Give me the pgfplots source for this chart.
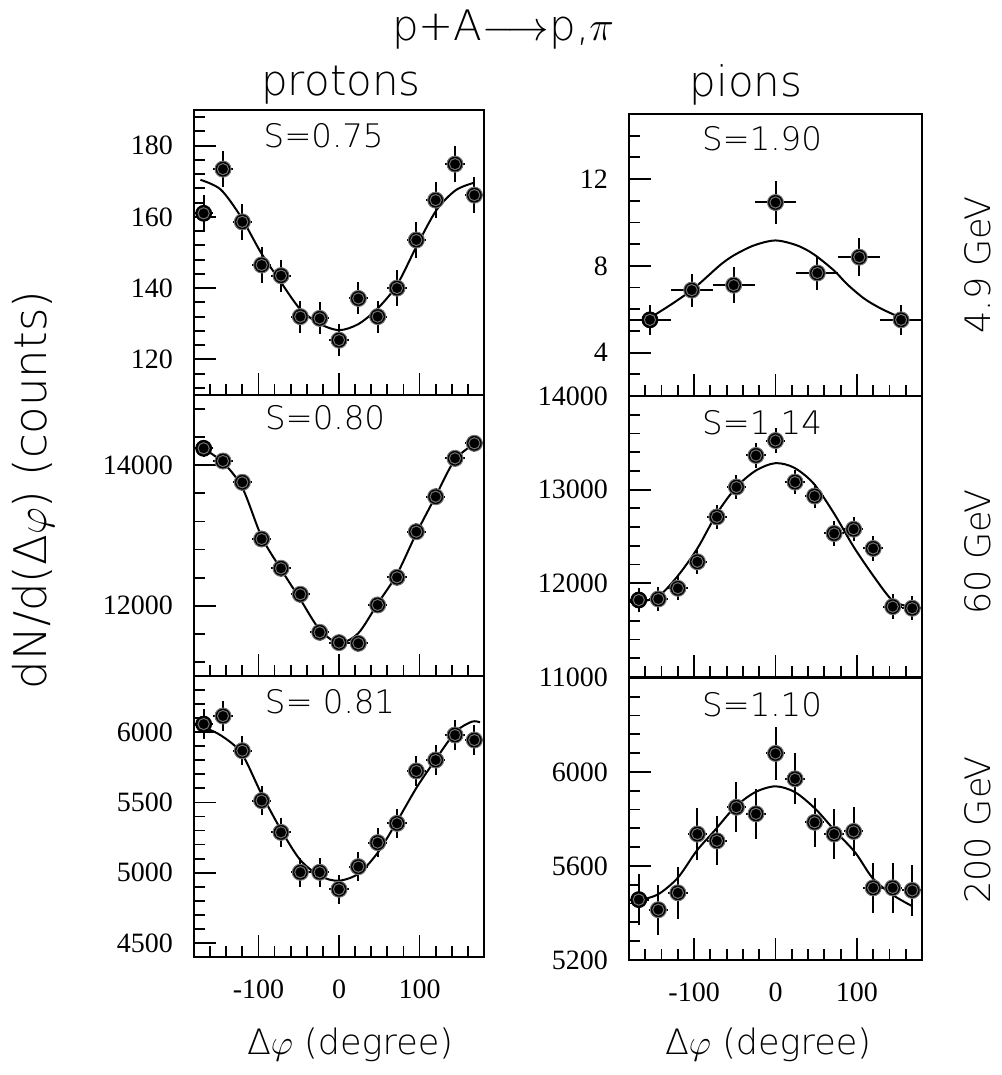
\documentclass[border=0pt]{standalone}
\usepackage{fontspec}
\setmainfont{Liberation Serif}
\IfFontExistsTF{DejaVu Sans ExtraLight}{\newfontfamily\hf{DejaVu Sans ExtraLight}}{\newfontfamily\hf{DejaVu Sans}}
\usepackage{pgfplots}
\pgfplotsset{compat=1.18}

% filled dot with a faint inner ring, like the original markers
\pgfdeclareplotmark{ringdot}{%
  \pgfpathcircle{\pgfpointorigin}{\pgfplotmarksize}%
  \pgfusepathqfillstroke
  \pgfsetstrokecolor{black!55}%
  \pgfsetlinewidth{0.5pt}%
  \pgfpathcircle{\pgfpointorigin}{0.7\pgfplotmarksize}%
  \pgfusepathqstroke
}

\pgfplotsset{
  panel/.style={
    scale only axis, anchor=south west,
    xmin=-180, xmax=180,
    xtick={-100,0,100}, minor xtick={-180,-160,...,180},
    xticklabels={},
    scaled y ticks=false,
    tick align=inside, tick pos=left,
    major tick length=11pt, minor tick length=5.5pt,
    axis line style={line width=1.2pt},
    every tick/.append style={black, line width=0.9pt},
    /pgf/number format/assume math mode=true,
    /pgf/number format/1000 sep={},
    yticklabel style={font=\fontsize{14}{14}\selectfont, xshift=-7pt},
    xticklabel style={font=\fontsize{14}{14}\selectfont, yshift=-8pt},
  },
  leftcol/.style={panel, width=145pt},
  rightcol/.style={panel, width=146.5pt},
  bottomrow/.style={xticklabels={-100,0,100}},
  pts/.style={only marks, mark=ringdot, mark size=4pt, mark options={fill=black, draw=black},
    error bars/.cd, x dir=both, x explicit, y dir=both, y explicit,
    error bar style={line width=1pt, black}, error mark=none},
  fitc/.style={smooth, no marks, line width=1pt, black},
}
\tikzset{slab/.style={font=\hf\fontsize{16.2}{16.2}\selectfont}}

\begin{document}
\begin{tikzpicture}
\useasboundingbox (0,0) rectangle (500.5pt,537.5pt);

% ---------- protons, 4.9 GeV
\begin{axis}[leftcol, at={(97pt,340pt)}, height=142.5pt,
  ymin=110, ymax=190, ytick={120,140,160,180}, minor ytick={112,116,...,188}]
\addplot[pts] coordinates {
 (-168,161.0) +- (12,5) (-144,173.4) +- (12,5) (-120,158.6) +- (12,5)
 (-96,146.5) +- (12,5) (-72,143.5) +- (12,4.5) (-48,132.0) +- (12,4.5)
 (-24,131.5) +- (12,4.5) (0,125.4) +- (12,4.5) (24,137.1) +- (12,4.5)
 (48,132.0) +- (12,4.5) (72,140.0) +- (12,5) (96,153.5) +- (12,5)
 (120,164.7) +- (12,5) (144,174.8) +- (12,5) (168,166.1) +- (12,5)
};
\addplot[fitc] coordinates {
 (-172,170.4) (-147,167.7) (-122,160.1) (-97,150.0) (-74,142.3) (-49,134.3)
 (-25,130.1) (0,128.2) (24,129.9) (48,134.3) (72,140.9) (96,151.6)
 (121,161.9) (145,167.5) (168,169.6)
};
\node[slab] at (rel axis cs:0.447,0.909) {S=0.75};
\end{axis}

% ---------- protons, 60 GeV
\begin{axis}[leftcol, at={(97pt,199.5pt)}, height=140.5pt,
  ymin=11000, ymax=15000, ytick={12000,14000}, minor ytick={11200,11600,...,14800}]
\addplot[pts] coordinates {
 (-168,14241) +- (12,120) (-144,14060) +- (12,120) (-120,13757) +- (12,120)
 (-96,12950) +- (12,120) (-72,12533) +- (12,120) (-48,12163) +- (12,120)
 (-24,11622) +- (12,120) (0,11475) +- (12,120) (24,11465) +- (12,120)
 (48,12011) +- (12,120) (72,12405) +- (12,120) (96,13054) +- (12,120)
 (120,13552) +- (12,120) (144,14098) +- (12,120) (168,14312) +- (12,120)
};
\addplot[fitc] coordinates {
 (-170,14250) (-144,14040) (-120,13680) (-96,12980) (-72,12520) (-48,12090)
 (-24,11660) (0,11470) (24,11610) (48,12030) (72,12450) (96,13030)
 (120,13560) (144,14080) (170,14320)
};
\node[slab] at (rel axis cs:0.452,0.918) {S=0.80};
\end{axis}

% ---------- protons, 200 GeV
\begin{axis}[leftcol, bottomrow, at={(97pt,59pt)}, height=140.5pt,
  ymin=4400, ymax=6400, ytick={4500,5000,5500,6000}, minor ytick={4400,4500,...,6400}]
\addplot[pts] coordinates {
 (-168,6058) +- (12,105) (-144,6115) +- (12,105) (-120,5868) +- (12,105)
 (-96,5513) +- (12,105) (-72,5287) +- (12,105) (-48,5003) +- (12,105)
 (-24,5003) +- (12,105) (0,4882) +- (12,105) (24,5043) +- (12,105)
 (48,5214) +- (12,105) (72,5351) +- (12,105) (96,5724) +- (12,105)
 (120,5802) +- (12,105) (144,5980) +- (12,105) (168,5944) +- (12,105)
};
\addplot[fitc] coordinates {
 (-180,6055) (-168,6035) (-146,5975) (-121,5850) (-97,5570) (-72,5305)
 (-48,5090) (-23,4975) (0,4943) (25,4996) (49,5150) (73,5375) (97,5612)
 (121,5814) (145,6004) (165,6075) (175,6070)
};
\node[slab] at (rel axis cs:0.469,0.907) {S=\ 0.81};
\end{axis}

% ---------- pions, 4.9 GeV
\begin{axis}[rightcol, at={(314.5pt,339.5pt)}, height=141pt,
  ymin=2, ymax=15, ytick={4,8,12}, minor ytick={2,3,...,15}]
\addplot[pts] coordinates {
 (-154.3,5.51) +- (25.7,0.70) (-102.9,6.88) +- (25.7,0.76)
 (-51.4,7.11) +- (25.7,0.82) (0,10.92) +- (25.7,0.98)
 (51.4,7.67) +- (25.7,0.77) (102.9,8.40) +- (25.7,0.88)
 (154.3,5.51) +- (25.7,0.70)
};
\addplot[fitc] coordinates {
 (-154.3,5.6) (-129,6.2) (-102.9,6.88) (-84,7.5) (-67.6,8.05) (-51.4,8.48)
 (-26.6,8.94) (0,9.17) (26.6,8.94) (47.1,8.53) (71.7,7.79) (88.1,7.15)
 (108.6,6.5) (129,6.04) (154.3,5.6)
};
\node[slab] at (rel axis cs:0.454,0.911) {S=1.90};
\end{axis}

% ---------- pions, 60 GeV
\begin{axis}[rightcol, at={(314.5pt,199pt)}, height=140.5pt,
  ymin=11000, ymax=14000, ytick={11000,12000,13000,14000}, minor ytick={11000,11200,...,14000}]
\addplot[pts] coordinates {
 (-168,11822) +- (12,130) (-144,11833) +- (12,130) (-120,11947) +- (12,130)
 (-96,12230) +- (12,130) (-72,12709) +- (12,130) (-48,13028) +- (12,130)
 (-24,13365) +- (12,130) (0,13524) +- (12,130) (24,13081) +- (12,130)
 (48,12932) +- (12,130) (72,12532) +- (12,130) (96,12578) +- (12,130)
 (120,12372) +- (12,130) (144,11751) +- (12,130) (168,11734) +- (12,130)
};
\addplot[fitc] coordinates {
 (-168,11800) (-144,11860) (-120,12080) (-96,12372) (-72,12745) (-48,13028)
 (-24,13205) (0,13283) (23,13234) (47,13064) (72,12745) (96,12390)
 (121,12070) (143,11822) (160,11760)
};
\node[slab] at (rel axis cs:0.454,0.904) {S=1.14};
\end{axis}

% ---------- pions, 200 GeV
\begin{axis}[rightcol, bottomrow, at={(314.5pt,57.5pt)}, height=141pt,
  ymin=5200, ymax=6400, ytick={5200,5600,6000}, minor ytick={5200,5280,...,6400}]
\addplot[pts] coordinates {
 (-168,5457) +- (12,107) (-144,5414) +- (12,107) (-120,5486) +- (12,110)
 (-96,5736) +- (12,110) (-72,5707) +- (12,104) (-48,5850) +- (12,107)
 (-24,5822) +- (12,107) (0,6079) +- (12,114) (24,5971) +- (12,109)
 (48,5786) +- (12,105) (72,5736) +- (12,107) (96,5747) +- (12,104)
 (120,5507) +- (12,107) (144,5507) +- (12,107) (168,5496) +- (12,110)
};
\addplot[fitc] coordinates {
 (-169,5453) (-144.5,5479) (-120,5550) (-97,5664) (-75,5750) (-50,5850)
 (-25,5914) (0,5939) (24,5914) (49,5843) (73,5750) (98,5657) (119,5550)
 (143,5479) (168,5429)
};
\node[slab] at (rel axis cs:0.454,0.904) {S=1.10};
\end{axis}

% ---------- titles and labels
\node[font=\hf\fontsize{21}{21}\selectfont] at (251.5pt,522.5pt) {p+A$\longrightarrow$p,$\pi$};
\node[font=\hf\fontsize{21}{21}\selectfont] at (170.5pt,495pt) {protons};
\node[font=\hf\fontsize{21}{21}\selectfont] at (373pt,495pt) {pions};
\node[font=\hf\fontsize{17.5}{17.5}\selectfont] at (175pt,15pt) {Δ$\varphi$ (degree)};
\node[font=\hf\fontsize{17.5}{17.5}\selectfont] at (384pt,15pt) {Δ$\varphi$ (degree)};
\node[font=\hf\fontsize{22.5}{22.5}\selectfont, rotate=90] at (16.5pt,292.5pt) {dN/d(Δ$\varphi$) (counts)};
\node[font=\hf\fontsize{17.5}{17.5}\selectfont, rotate=90] at (489pt,405pt) {4.9 GeV};
\node[font=\hf\fontsize{17.5}{17.5}\selectfont, rotate=90] at (489pt,261.5pt) {60 GeV};
\node[font=\hf\fontsize{17.5}{17.5}\selectfont, rotate=90] at (489pt,122.5pt) {200 GeV};
\end{tikzpicture}
\end{document}
